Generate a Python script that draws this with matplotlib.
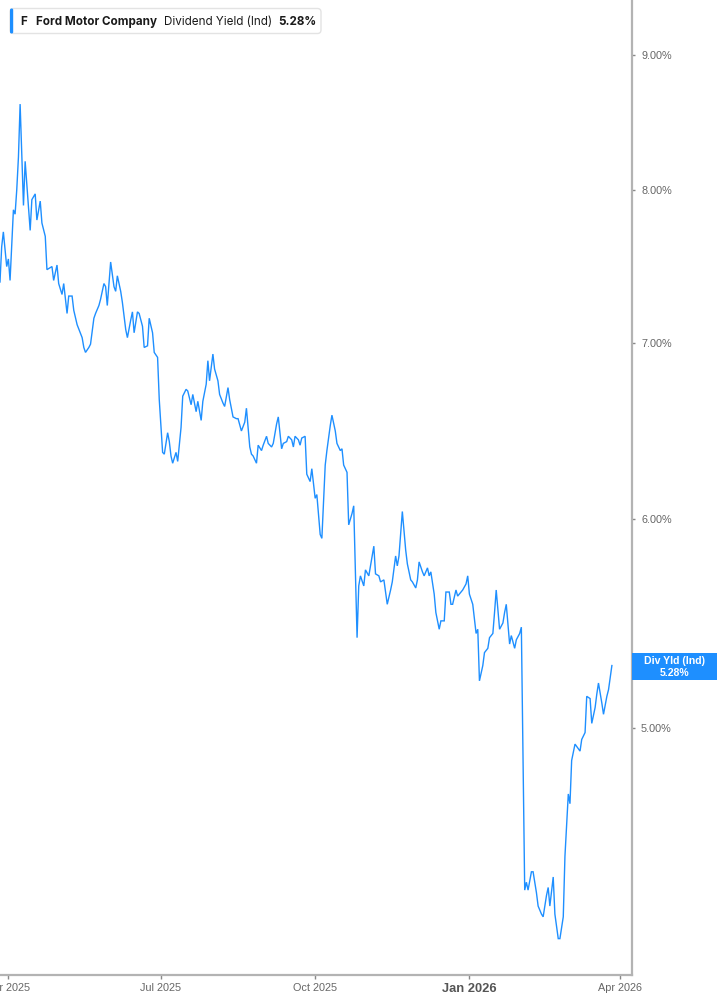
import matplotlib
matplotlib.use('Agg')
import matplotlib.pyplot as plt
import matplotlib.dates as mdates
from matplotlib.ticker import FixedLocator, NullLocator
from matplotlib.patches import FancyBboxPatch, Rectangle
import pandas as pd

# Ford (F) indicated dividend yield, daily
start_date = '2025-04-01'
day_offsets = [
    -5, -4, -3, -1, 0, 1, 3, 4, 5, 6,
    7, 9, 10, 11, 13, 14, 16, 17, 19, 20,
    22, 23, 26, 27, 29, 30, 32, 33, 35, 36,
    38, 39, 41, 44, 45, 46, 48, 49, 51, 52,
    54, 55, 57, 58, 59, 61, 63, 64, 65, 67,
    68, 70, 71, 73, 74, 75, 77, 78, 80, 81,
    83, 84, 86, 87, 89, 90, 92, 93, 95, 96,
    97, 98, 100, 101, 103, 104, 106, 107, 109, 110,
    112, 113, 115, 116, 118, 119, 120, 122, 123, 125,
    126, 128, 129, 131, 132, 134, 136, 137, 139, 141,
    142, 144, 145, 146, 148, 149, 151, 152, 154, 155,
    157, 158, 160, 161, 163, 164, 166, 167, 169, 170,
    171, 173, 174, 175, 177, 178, 180, 181, 183, 184,
    186, 187, 189, 190, 192, 193, 195, 196, 198, 199,
    200, 202, 203, 205, 206, 208, 209, 210, 212, 213,
    215, 216, 218, 219, 221, 222, 224, 225, 226, 228,
    229, 231, 232, 233, 235, 237, 238, 240, 241, 243,
    244, 245, 247, 248, 250, 251, 252, 254, 255, 257,
    258, 260, 261, 263, 264, 265, 267, 268, 270, 271,
    273, 274, 275, 277, 279, 280, 281, 283, 284, 286,
    287, 289, 290, 291, 293, 295, 296, 297, 299, 300,
    302, 303, 305, 306, 308, 309, 310, 312, 313, 315,
    316, 318, 319, 321, 322, 323, 325, 326, 328, 329,
    331, 332, 334, 335, 336, 338, 339, 341, 342, 344,
    345, 347, 348, 350, 351, 352, 354, 355, 357, 358, 360,
]
div_yield = [
    7.38, 7.61, 7.71, 7.48, 7.53, 7.39, 7.86, 7.83, 8.00, 8.23,
    8.62, 7.89, 8.20, 8.04, 7.72, 7.93, 7.97, 7.79, 7.92, 7.77,
    7.68, 7.46, 7.48, 7.39, 7.49, 7.37, 7.30, 7.37, 7.18, 7.29,
    7.29, 7.20, 7.11, 7.03, 6.97, 6.94, 6.97, 6.99, 7.15, 7.18,
    7.23, 7.27, 7.37, 7.35, 7.23, 7.51, 7.35, 7.32, 7.42, 7.32,
    7.25, 7.08, 7.03, 7.14, 7.19, 7.06, 7.19, 7.18, 7.10, 6.97,
    6.98, 7.15, 7.06, 6.94, 6.91, 6.66, 6.36, 6.35, 6.47, 6.42,
    6.34, 6.30, 6.36, 6.31, 6.50, 6.68, 6.72, 6.71, 6.63, 6.69,
    6.59, 6.65, 6.54, 6.65, 6.75, 6.89, 6.77, 6.93, 6.84, 6.77,
    6.69, 6.64, 6.62, 6.73, 6.66, 6.56, 6.55, 6.55, 6.48, 6.53,
    6.61, 6.39, 6.35, 6.34, 6.30, 6.40, 6.37, 6.40, 6.45, 6.41,
    6.39, 6.41, 6.52, 6.56, 6.38, 6.41, 6.42, 6.45, 6.43, 6.39,
    6.45, 6.43, 6.40, 6.44, 6.45, 6.24, 6.20, 6.27, 6.11, 6.13,
    5.92, 5.90, 6.29, 6.37, 6.51, 6.57, 6.48, 6.41, 6.37, 6.38,
    6.29, 6.25, 5.97, 6.03, 6.07, 5.41, 5.66, 5.71, 5.66, 5.74,
    5.71, 5.76, 5.86, 5.72, 5.71, 5.68, 5.69, 5.63, 5.57, 5.64,
    5.68, 5.81, 5.76, 5.81, 6.04, 5.84, 5.77, 5.69, 5.68, 5.65,
    5.69, 5.78, 5.73, 5.71, 5.75, 5.71, 5.73, 5.62, 5.53, 5.45,
    5.49, 5.49, 5.63, 5.63, 5.57, 5.57, 5.64, 5.61, 5.63, 5.64,
    5.67, 5.71, 5.62, 5.57, 5.43, 5.45, 5.21, 5.28, 5.34, 5.36,
    5.41, 5.43, 5.53, 5.64, 5.45, 5.48, 5.53, 5.57, 5.38, 5.42,
    5.36, 5.40, 5.43, 5.46, 4.34, 4.37, 4.34, 4.41, 4.41, 4.33,
    4.28, 4.25, 4.24, 4.32, 4.35, 4.28, 4.39, 4.25, 4.16, 4.16,
    4.24, 4.47, 4.72, 4.68, 4.86, 4.93, 4.92, 4.90, 4.95, 4.98,
    5.14, 5.13, 5.02, 5.09, 5.15, 5.20, 5.11, 5.06, 5.14, 5.17, 5.28,
]

x_tick_dates = ['2025-04-01', '2025-07-01', '2025-10-01', '2026-01-01', '2026-04-01']
x_tick_labels = ['Apr 2025', 'Jul 2025', 'Oct 2025', 'Jan 2026', 'Apr 2026']
y_ticks = [5, 6, 7, 8, 9]
y_tick_labels = ['5.00%', '6.00%', '7.00%', '8.00%', '9.00%']

ticker = 'F'
company = 'Ford Motor Company'
metric = 'Dividend Yield (Ind)'
last_label = 'Div Yld (Ind)'
last_value = div_yield[-1]

W, H = 717, 1005
BLUE = '#1E8FFF'

dates = pd.Timestamp(start_date) + pd.to_timedelta(day_offsets, unit='D')

fig = plt.figure(figsize=(W / 100, H / 100), dpi=100)
ax = fig.add_axes([0, 30 / H, 632 / W, 1 - 30 / H])

ax.plot(dates, div_yield, color=BLUE, lw=1.0, solid_joinstyle='miter')

ax.set_yscale('log')
ax.set_ylim(4.03, 9.44)
ax.yaxis.set_major_locator(FixedLocator(y_ticks))
ax.yaxis.set_minor_locator(NullLocator())
ax.set_yticklabels(y_tick_labels)

t0 = pd.Timestamp(start_date)
ax.set_xlim(t0 + pd.Timedelta(days=-5), t0 + pd.Timedelta(days=372))
ax.set_xticks(pd.to_datetime(x_tick_dates))
ax.set_xticklabels(x_tick_labels)

for s in ['top', 'left']:
    ax.spines[s].set_visible(False)
for s in ['right', 'bottom']:
    ax.spines[s].set_color('#b3b3b3')
    ax.spines[s].set_linewidth(1.6)

ax.yaxis.tick_right()
ax.tick_params(axis='y', length=2, width=1, color='#888888', pad=4.5,
               labelsize=7.8, labelcolor='#666666')
ax.tick_params(axis='x', length=3, width=1, color='#888888', pad=2.5,
               labelsize=7.8, labelcolor='#666666')
for lab in ax.get_yticklabels() + ax.get_xticklabels():
    lab.set_family(['Liberation Sans', 'DejaVu Sans'])
for lab in ax.get_xticklabels():
    if lab.get_text() == 'Jan 2026':
        lab.set_fontweight('bold')
        lab.set_fontsize(9.3)
        lab.set_color('#555555')


def fx(px):
    return px / W


def fy(py):
    return 1 - py / H


# legend box top-left
box = FancyBboxPatch((fx(10), fy(33.5)), fx(311), 25 / H,
                     boxstyle='round,pad=0,rounding_size=0.005',
                     mutation_aspect=W / H, transform=fig.transFigure,
                     facecolor='white', edgecolor='#e3e3e3', lw=1.0, zorder=5)
fig.patches.append(box)
bar = FancyBboxPatch((fx(10), fy(33.5)), fx(3.2), 25 / H,
                     boxstyle='round,pad=0,rounding_size=0.002',
                     mutation_aspect=W / H, transform=fig.transFigure,
                     facecolor=BLUE, edgecolor='none', zorder=6)
fig.patches.append(bar)

leg_font = ['Inter', 'DejaVu Sans']
fig.text(fx(20.5), fy(25), ticker, fontsize=8.4, fontweight='bold', color='#1a1a1a',
         family=leg_font, va='baseline', zorder=7)
fig.text(fx(35.5), fy(25), company, fontsize=8.4, fontweight='bold', color='#1a1a1a',
         family=leg_font, va='baseline', zorder=7)
fig.text(fx(164), fy(25), metric, fontsize=8.4, color='#1a1a1a',
         family=leg_font, va='baseline', zorder=7)
fig.text(fx(278.5), fy(25), f'{last_value:.2f}%', fontsize=8.4, fontweight='bold',
         color='#1a1a1a', family=leg_font, va='baseline', zorder=7)

# last value tag on the right axis
fig.patches.append(Rectangle((fx(632), fy(680)), fx(85), 27 / H,
                             transform=fig.transFigure, facecolor=BLUE,
                             edgecolor='none', zorder=5))
tag_font = ['Liberation Sans', 'DejaVu Sans']
fig.text(fx(674.5), fy(661.5), last_label, fontsize=7.6, fontweight='bold',
         color='white', family=tag_font, ha='center', va='center', zorder=7)
fig.text(fx(674.5), fy(672.5), f'{last_value:.2f}%', fontsize=7.6, fontweight='bold',
         color='white', family=tag_font, ha='center', va='center', zorder=7)

fig.savefig('out.png', dpi=100)
